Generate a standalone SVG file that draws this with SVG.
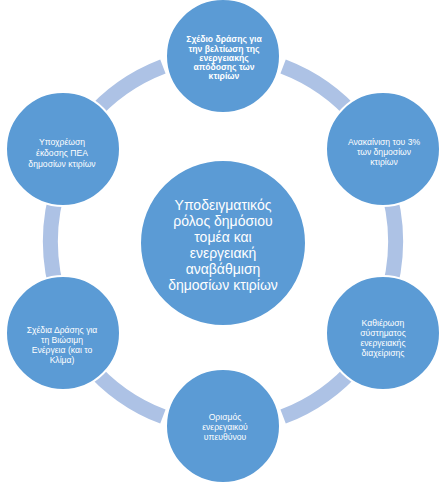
<svg xmlns="http://www.w3.org/2000/svg" width="445" height="490" viewBox="0 0 445 490">
<style>
.node{fill:#5b9bd5;stroke:#ffffff;stroke-width:2}
.arc{fill:none;stroke:#adc2e5;stroke-width:15;stroke-linecap:butt}
.t{fill:#ffffff;font-family:"Liberation Sans","Noto Sans",sans-serif;text-anchor:middle}
.s{font-size:8.6px}
.b{font-weight:bold}
.c{font-size:14px}
</style>
<rect width="445" height="490" fill="#ffffff"/>
<g id="connectors">
<path class="arc" d="M 283.1 66.4 A 184 184 0 0 1 358.2 119.7"/>
<path class="arc" d="M 385.7 181.8 A 184 184 0 0 1 385.7 301.2"/>
<path class="arc" d="M 358.2 363.3 A 184 184 0 0 1 283.1 416.6"/>
<path class="arc" d="M 162.9 416.6 A 184 184 0 0 1 87.8 363.3"/>
<path class="arc" d="M 60.3 301.2 A 184 184 0 0 1 60.3 181.8"/>
<path class="arc" d="M 87.8 119.7 A 184 184 0 0 1 162.9 66.4"/>
</g>
<g id="center">
<circle class="node" cx="223" cy="243" r="83"/>
<text class="t c" x="223" y="210">Υποδειγματικός</text>
<text class="t c" x="223" y="226">ρόλος δημόσιου</text>
<text class="t c" x="223" y="242">τομέα και</text>
<text class="t c" x="223" y="258">ενεργειακή</text>
<text class="t c" x="223" y="274">αναβάθμιση</text>
<text class="t c" x="223" y="290">δημοσίων κτιρίων</text>
</g>
<g id="n1">
<circle class="node" cx="223" cy="56" r="57"/>
<text class="t s b" x="224" y="42">Σχέδιο δράσης για</text>
<text class="t s b" x="224" y="51.5">την βελτίωση της</text>
<text class="t s b" x="224" y="61">ενεργειακής</text>
<text class="t s b" x="224" y="70">απόδοσης των</text>
<text class="t s b" x="224" y="78.5">κτιρίων</text>
</g>
<g id="n2">
<circle class="node" cx="383" cy="149" r="57"/>
<text class="t s" x="384" y="145">Ανακαίνιση του 3%</text>
<text class="t s" x="384" y="155">των δημοσίων</text>
<text class="t s" x="384" y="165">κτιρίων</text>
</g>
<g id="n3">
<circle class="node" cx="383" cy="333" r="57"/>
<text class="t s" x="383" y="326">Καθιέρωση</text>
<text class="t s" x="383" y="336">σύστηματος</text>
<text class="t s" x="383" y="346">ενεργειακής</text>
<text class="t s" x="383" y="356">διαχείρισης</text>
</g>
<g id="n4">
<circle class="node" cx="223" cy="426" r="57"/>
<text class="t s" x="225" y="420">Ορισμός</text>
<text class="t s" x="225" y="430">ενερεγαικού</text>
<text class="t s" x="225" y="440">υπευθύνου</text>
</g>
<g id="n5">
<circle class="node" cx="63" cy="333" r="57"/>
<text class="t s" x="62" y="333">Σχέδια Δράσης για</text>
<text class="t s" x="62" y="343">τη Βιώσιμη</text>
<text class="t s" x="62" y="353">Ενέργεια (και το</text>
<text class="t s" x="62" y="363">Κλίμα)</text>
</g>
<g id="n6">
<circle class="node" cx="63" cy="149" r="57"/>
<text class="t s" x="62" y="145">Υποχρέωση</text>
<text class="t s" x="62" y="156">έκδοσης ΠΕΑ</text>
<text class="t s" x="62" y="167">δημοσίων κτιρίων</text>
</g>
</svg>
